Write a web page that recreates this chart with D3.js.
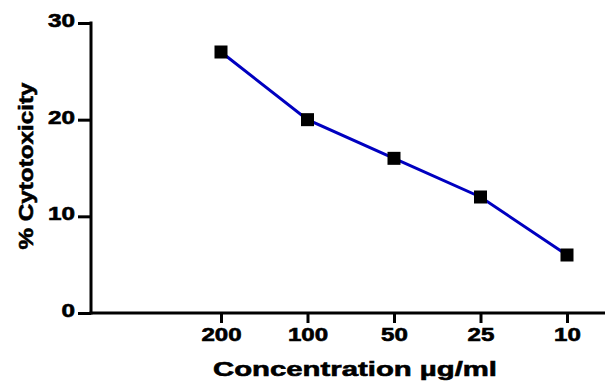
<!DOCTYPE html>
<html>
<head>
<meta charset="utf-8">
<script src="https://cdn.jsdelivr.net/npm/d3@7"></script>
<style>
body { margin: 0; background: #fff; }
text { font-family: "Liberation Sans", Arial, sans-serif; font-weight: bold; fill: #000; stroke: #000; stroke-width: 0.6px; }
</style>
</head>
<body>
<div id="chart"></div>
<script>
var concentrations = ["200", "100", "50", "25", "10"];
var cytotoxicity = [27, 20, 16, 12, 6];
var yTicks = [0, 10, 20, 30];

var margin = {top: 23, right: 2, bottom: 68, left: 91},
    width = 607 - margin.left - margin.right,
    height = 381 - margin.top - margin.bottom;

var svg = d3.select("#chart")
  .append("svg")
    .attr("width", 607)
    .attr("height", 381)
  .append("g")
    .attr("transform", "translate(" + margin.left + "," + margin.top + ")");

var x = d3.scalePoint()
  .domain(concentrations)
  .range([130, 476]);

var y = d3.scaleLinear()
  .domain([0, 30])
  .range([height, 0]);

var data = concentrations.map(function(c, i) { return {conc: c, value: cytotoxicity[i]}; });

// the labels in the original are set in a very wide heavy face, so stretch them
function widen(sel, perChar) {
  sel.style("font-size", "18px")
    .attr("textLength", function() { return this.textContent.length * perChar; })
    .attr("lengthAdjust", "spacingAndGlyphs");
}

// x axis
var xg = svg.append("g")
  .attr("transform", "translate(0," + height + ")")
  .call(d3.axisBottom(x).tickSize(10).tickSizeOuter(0).tickPadding(0));
xg.select(".domain").remove();
xg.selectAll(".tick line").attr("stroke-width", 3);
xg.selectAll(".tick text").attr("dy", null).attr("y", 28).call(widen, 13.4);
svg.append("line")
  .attr("x1", -1.5).attr("x2", 514)
  .attr("y1", height).attr("y2", height)
  .attr("stroke", "#000").attr("stroke-width", 3);

// y axis
var yg = svg.append("g")
  .call(d3.axisLeft(y).tickValues(yTicks).tickFormat(d3.format("d")).tickSize(13).tickSizeOuter(0).tickPadding(3));
yg.select(".domain").remove();
yg.selectAll(".tick line").attr("stroke-width", 3);
yg.selectAll(".tick text").attr("dy", "0.2em").call(widen, 13.5);
svg.append("line")
  .attr("x1", 0).attr("x2", 0)
  .attr("y1", -1.5).attr("y2", height + 1.5)
  .attr("stroke", "#000").attr("stroke-width", 3);

// axis titles
svg.append("text")
  .attr("x", 264)
  .attr("y", height + 63)
  .attr("text-anchor", "middle")
  .style("font-size", "21px")
  .attr("textLength", 284)
  .attr("lengthAdjust", "spacingAndGlyphs")
  .text("Concentration \u00b5g/ml");

svg.append("text")
  .attr("transform", "rotate(-90)")
  .attr("x", -(166 - margin.top))
  .attr("y", -58)
  .attr("text-anchor", "middle")
  .style("font-size", "21px")
  .attr("textLength", 167)
  .attr("lengthAdjust", "spacingAndGlyphs")
  .text("% Cytotoxicity");

// line
var line = d3.line()
  .x(function(d) { return x(d.conc); })
  .y(function(d) { return y(d.value); });

svg.append("path")
  .datum(data)
  .attr("fill", "none")
  .attr("stroke", "#0000c0")
  .attr("stroke-width", 3)
  .attr("d", line);

svg.selectAll(".point")
  .data(data)
  .enter().append("rect")
    .attr("class", "point")
    .attr("x", function(d) { return x(d.conc) - 6.5; })
    .attr("y", function(d) { return y(d.value) - 6.5; })
    .attr("width", 13)
    .attr("height", 13)
    .attr("fill", "#000");
</script>
</body>
</html>
